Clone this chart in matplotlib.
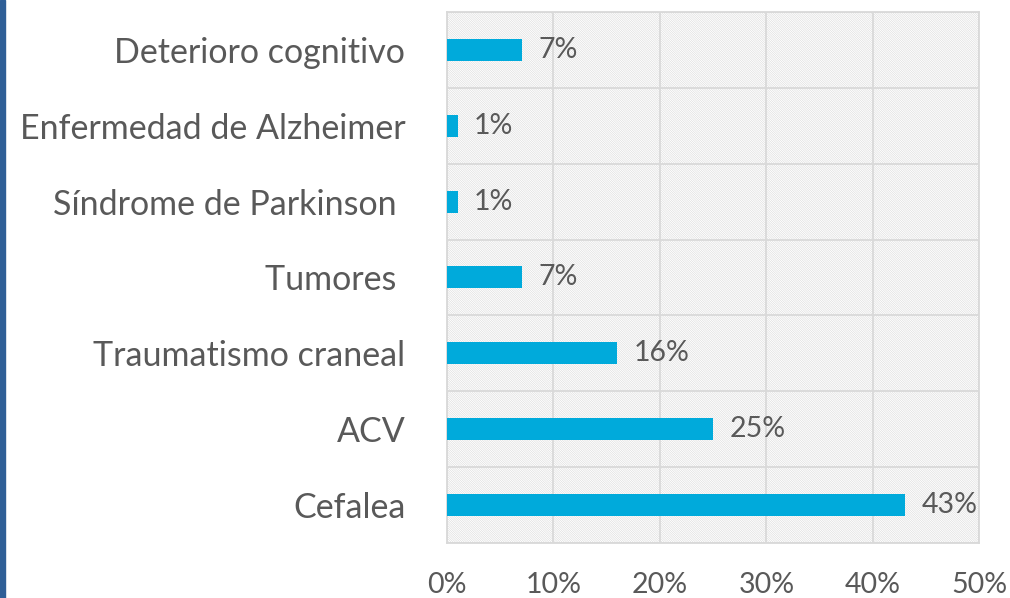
import matplotlib.pyplot as plt
import numpy as np

plt.rcParams['font.family'] = ['Lato', 'DejaVu Sans']
plt.rcParams['hatch.linewidth'] = 0.4
plt.rcParams['hatch.color'] = '#d9d9d9'

categorias = ["Cefalea", "ACV", "Traumatismo craneal", "Tumores ",
              "Síndrome de Parkinson ", "Enfermedad de Alzheimer", "Deterioro cognitivo"]
valores = [43, 25, 16, 7, 1, 1, 7]

gris = '#595959'
fig = plt.figure(figsize=(10.1, 5.98), dpi=100)
ax = fig.add_axes([0.4426, 0.092, 0.527, 0.888])

y = np.arange(len(categorias))
ax.barh(y, valores, height=0.29, color='#00aadb', zorder=3)

ax.set_xlim(0, 50)
ax.set_ylim(-0.5, len(categorias) - 0.5)

# hatched background
ax.patch.set_facecolor('white')
ax.patch.set_hatch('\\' * 15)
ax.patch.set_edgecolor('#d9d9d9')

for yi, v in zip(y, valores):
    ax.text(v + 1.55, yi, f"{v}%", va='center', ha='left', fontsize=20.5, color=gris, zorder=4)

ax.set_yticks(y)
ax.set_yticklabels(categorias, fontsize=24.5, color=gris)
ax.set_xticks(np.arange(0, 51, 10))
ax.set_xticklabels([f"{t}%" for t in range(0, 51, 10)], fontsize=20.5, color=gris)
ax.set_yticks(np.arange(-0.5, len(categorias), 1), minor=True)
ax.tick_params(axis='y', length=0, pad=30)
ax.tick_params(axis='x', length=0, pad=21)
ax.tick_params(which='minor', length=0)

ax.grid(axis='x', which='major', color='#d9d9d9', linewidth=1.3, zorder=1)
ax.grid(axis='y', which='minor', color='#d9d9d9', linewidth=1.3, zorder=1)
ax.set_axisbelow(True)
for s in ax.spines.values():
    s.set_color('#d9d9d9')
    s.set_linewidth(1.3)

# blue strip on the left edge
fig.patches.append(plt.Rectangle((0, 0), 0.0045, 1, transform=fig.transFigure,
                                 color='#2f5f97', zorder=0))

fig.savefig('out.png', dpi=100)
